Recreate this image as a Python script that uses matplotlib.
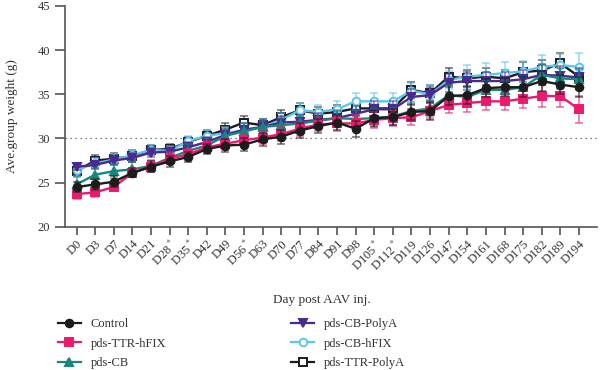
import numpy as np
import matplotlib
matplotlib.use("Agg")
import matplotlib.pyplot as plt
from matplotlib.lines import Line2D

plt.rcParams["font.family"] = ["Liberation Serif", "DejaVu Serif"]
plt.rcParams["mathtext.fontset"] = "stix"

days = ["D0", "D3", "D7", "D14", "D21", "D28$^*$", "D35$^*$", "D42", "D49", "D56$^*$",
        "D63", "D70", "D77", "D84", "D91", "D98", "D105$^*$", "D112$^*$", "D119", "D126",
        "D147", "D154", "D161", "D168", "D175", "D182", "D189", "D194"]

control = [24.5, 24.8, 25.1, 26.1, 26.8, 27.4, 27.9, 28.8, 29.2, 29.3,
           29.9, 30.2, 30.9, 31.4, 31.8, 31.1, 32.3, 32.4, 33.0, 33.1,
           34.8, 34.9, 35.7, 35.8, 35.8, 36.5, 36.1, 35.8]
ttr_hfix = [23.7, 23.9, 24.5, 26.1, 26.8, 27.7, 28.2, 29.0, 29.4, 29.8,
            30.1, 30.5, 31.1, 31.6, 31.7, 31.7, 32.1, 32.3, 32.4, 33.1,
            33.8, 34.0, 34.2, 34.2, 34.5, 34.8, 34.8, 33.3]
cb = [24.8, 25.9, 26.3, 26.5, 26.9, 27.8, 28.6, 29.2, 30.3, 30.8,
      31.3, 31.5, 31.7, 32.0, 32.3, 32.2, 32.3, 32.5, 33.1, 33.4,
      34.9, 34.7, 35.5, 35.5, 35.8, 37.2, 36.8, 36.7]
cb_polya = [26.8, 27.0, 27.5, 27.8, 28.4, 28.5, 29.0, 29.6, 30.4, 31.0,
            31.3, 31.8, 31.9, 32.1, 32.3, 32.8, 33.3, 33.3, 34.7, 34.9,
            36.3, 36.5, 36.5, 36.5, 36.7, 37.2, 37.1, 36.9]
cb_hfix = [26.4, 27.2, 27.6, 28.1, 28.7, 28.6, 29.7, 30.3, 30.6, 30.9,
           31.3, 32.1, 33.2, 33.0, 33.3, 34.2, 34.2, 34.2, 35.4, 35.0,
           36.6, 37.0, 37.2, 37.4, 37.6, 38.1, 38.3, 38.1]
ttr_polya = [26.3, 27.5, 27.7, 28.0, 28.7, 28.8, 29.6, 30.3, 31.0, 31.8,
             31.5, 32.4, 33.2, 32.8, 33.0, 33.4, 33.4, 33.4, 35.5, 35.1,
             37.0, 36.8, 37.0, 36.8, 37.5, 37.7, 38.5, 37.0]

err_control = [0.6, 0.6, 0.6, 0.5, 0.6, 0.6, 0.6, 0.6, 0.7, 0.7,
               0.7, 0.8, 0.8, 0.8, 0.8, 0.9, 0.9, 0.9, 0.9, 1.0,
               1.0, 1.0, 1.0, 1.0, 1.1, 1.1, 1.1, 1.1]
err_ttr_hfix = [0.5, 0.5, 0.5, 0.5, 0.6, 0.6, 0.6, 0.7, 0.7, 0.7,
                0.7, 0.8, 0.8, 0.8, 0.8, 0.9, 0.9, 0.9, 0.9, 0.9,
                0.9, 1.0, 1.0, 1.0, 1.1, 1.2, 1.2, 1.5]
err_cb = [0.8, 0.8, 0.8, 0.8, 0.7, 0.7, 0.8, 0.8, 0.9, 0.9,
          0.9, 0.8, 0.8, 0.8, 0.9, 1.0, 1.0, 1.0, 1.0, 1.0,
          1.1, 1.1, 1.1, 1.1, 1.2, 1.2, 1.2, 1.2]
err_cb_polya = [0.4, 0.5, 0.5, 0.5, 0.5, 0.5, 0.6, 0.6, 0.7, 0.7,
                0.7, 0.7, 0.8, 0.8, 0.8, 0.9, 0.9, 0.9, 0.9, 0.9,
                1.0, 1.0, 1.0, 1.0, 1.0, 1.1, 1.1, 1.1]
err_cb_hfix = [0.6, 0.6, 0.6, 0.6, 0.6, 0.6, 0.6, 0.7, 0.7, 0.7,
               0.7, 0.8, 0.8, 0.8, 0.9, 0.9, 0.9, 0.9, 0.9, 1.0,
               1.0, 1.3, 1.3, 1.3, 1.2, 1.3, 1.3, 1.6]
err_ttr_polya = [0.6, 0.6, 0.6, 0.7, 0.6, 0.6, 0.6, 0.7, 0.7, 0.7,
                 0.7, 0.8, 0.8, 0.8, 0.8, 0.9, 0.9, 0.9, 0.9, 0.9,
                 1.0, 1.0, 1.0, 1.0, 1.1, 1.2, 1.2, 1.2]

# (label, values, errors, colour, marker, marker face, zorder)
series = [
    ("Control", control, err_control, "#1c1c1c", "o", "#1c1c1c", 9),
    ("pds-TTR-hFIX", ttr_hfix, err_ttr_hfix, "#ec1a6e", "s", "#ec1a6e", 8),
    ("pds-CB", cb, err_cb, "#17867d", "^", "#17867d", 7),
    ("pds-CB-PolyA", cb_polya, err_cb_polya, "#4a2a8e", "v", "#4a2a8e", 6),
    ("pds-CB-hFIX", cb_hfix, err_cb_hfix, "#5cc6f0", "o", "white", 5),
    ("pds-TTR-PolyA", ttr_polya, err_ttr_polya, "#1c1c1c", "s", "white", 4),
]

fig = plt.figure(figsize=(6, 3.7), dpi=100)
ax = fig.add_axes([0.108, 0.387, 0.887, 0.597])
x = np.arange(len(days))

handles = []
for lab, vals, err, col, mk, face, z in series:
    ax.errorbar(x, vals, yerr=err, fmt="none", ecolor=col, alpha=0.65,
                elinewidth=1.1, capsize=3, capthick=1.1, zorder=z)
    ax.plot(x, vals, color=col, lw=1.7, marker=mk, ms=5.5, mfc=face,
            mec=col, mew=1.4, zorder=z + 0.5)
    handles.append(Line2D([], [], color=col, lw=1.6, marker=mk, ms=5.5,
                          mfc=face, mec=col, mew=1.4, label=lab))

ax.axhline(30, color="#555555", lw=0.9, ls=(0, (1, 3)), zorder=1)

ax.set_xlim(-0.63, 27.97)
ax.set_ylim(20, 45)
ax.set_yticks([20, 25, 30, 35, 40, 45])
ax.set_xticks(x)
ax.set_xticklabels(days, rotation=45, ha="right", rotation_mode="anchor")
for s in ["top", "right"]:
    ax.spines[s].set_visible(False)
for s in ["left", "bottom"]:
    ax.spines[s].set_color("#555555")
    ax.spines[s].set_linewidth(1.2)
ax.tick_params(axis="both", colors="#555555", labelcolor="#333333",
               labelsize=9, width=1.2)
ax.tick_params(axis="y", length=7)
ax.tick_params(axis="x", length=6, pad=2)
ax.set_ylabel("Ave.group weight (g)", fontsize=9.5, color="#333333", labelpad=14)
fig.text(0.537, 0.189, "Day post AAV inj.", fontsize=9.5, color="#333333",
         ha="center", va="center")

leg_kw = dict(frameon=False, fontsize=9, handlelength=1.8, labelspacing=0.6,
              handletextpad=0.8, labelcolor="#333333")
fig.legend(handles=handles[:3], loc="upper left",
           bbox_to_anchor=(0.078, 0.17), **leg_kw)
fig.legend(handles=handles[3:], loc="upper left",
           bbox_to_anchor=(0.467, 0.17), **leg_kw)

fig.savefig("out.png", dpi=100)
